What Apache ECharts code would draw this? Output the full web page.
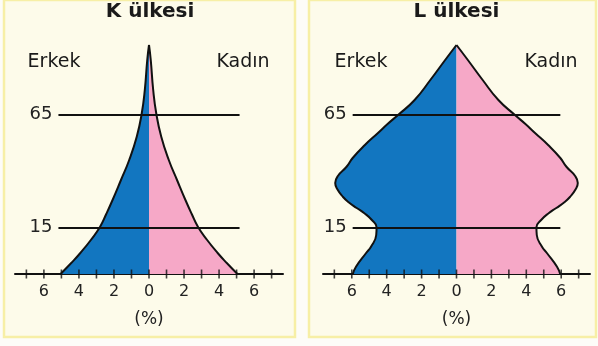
<!DOCTYPE html>
<html lang="tr">
<head>
<meta charset="UTF-8">
<title>K ve L ülkesi nüfus piramitleri</title>
<script src="https://cdn.jsdelivr.net/npm/echarts@6/dist/echarts.min.js"></script>
<style>
    html, body { margin: 0; padding: 0; background: #fdfcf8; }
    #main { width: 598px; height: 346px; }
</style>
</head>
<body>
<div id="main"></div>
<script>
    // dikey seviye: taban = 0, tepe ~ 91.6 (çizim yüksekliği), genişlik: nüfus oranı (%)
    var kLevel  = [0, 4.4, 8.4, 13.6, 18.8, 24, 29.6, 37.6, 45.6, 54.9, 64, 73.6, 85.6, 91.6];
    var kMale   = [5.05, 4.44, 3.92, 3.32, 2.8, 2.44, 2.08, 1.6, 1.13, 0.7, 0.42, 0.24, 0.1, 0];
    var kFemale = [5.05, 4.44, 3.92, 3.32, 2.8, 2.44, 2.08, 1.6, 1.13, 0.7, 0.42, 0.24, 0.1, 0];

    var lLevel  = [0, 2.9, 8.3, 10.9, 15.6, 18.7, 21.6, 24.3, 26.4, 28.8, 30.8, 33.6, 36.4, 39.2, 42.9,
                   46.4, 51.6, 56.4, 60, 63.6, 69.6, 77.6, 85.6, 91.6];
    var lMale   = [5.94, 5.76, 5.19, 4.9, 4.6, 4.58, 4.85, 5.28, 5.72, 6.2, 6.5, 6.8, 6.95, 6.8, 6.3,
                   5.95, 5.25, 4.5, 3.95, 3.35, 2.4, 1.5, 0.65, 0];
    var lFemale = [5.94, 5.76, 5.19, 4.9, 4.6, 4.58, 4.85, 5.28, 5.72, 6.2, 6.5, 6.8, 6.95, 6.8, 6.3,
                   5.95, 5.25, 4.5, 3.95, 3.35, 2.4, 1.5, 0.65, 0];

    // yaş sınırı çizgileri
    var ageNames  = ['15', '65'];
    var ageLevels = [18.7, 63.9];
    var kLineHalf = 5.17;
    var lLineHalf = 5.95;

    var tickValues  = [-7, -6, -5, -4, -3, -2, -1, 0, 1, 2, 3, 4, 5, 6, 7];
    var labelValues = [-6, -4, -2, 0, 2, 4, 6];

    var FONT = 'DejaVu Sans';
    var BLUE = '#1276c0';
    var PINK = '#f6a8c7';
    var INK = '#111';

    var chart = echarts.init(document.getElementById('main'));

    function xAxis(g) {
        return {
            type: 'value', gridIndex: g, min: -7.65, max: 7.65, position: 'bottom',
            axisLine: { show: true, onZero: false, lineStyle: { color: INK, width: 2 } },
            axisTick: { show: false },
            axisLabel: {
                customValues: labelValues, margin: 10, fontSize: 16, fontFamily: FONT, color: '#222',
                formatter: function (v) { return Math.abs(v); }
            },
            splitLine: { show: false },
            name: '(%)', nameLocation: 'middle', nameGap: 37,
            nameTextStyle: { fontSize: 17, fontFamily: FONT, color: '#222' }
        };
    }

    // eksen çizgisini kesen çentikler
    function ticks(g) {
        return {
            type: 'scatter', xAxisIndex: g, yAxisIndex: g, z: 6, silent: true, clip: false,
            symbol: 'rect', symbolSize: [1.6, 9],
            itemStyle: { color: INK },
            data: tickValues.map(function (v) { return [v, 0]; })
        };
    }

    function half(g, levels, widths, sign, color) {
        return {
            type: 'line', xAxisIndex: g, yAxisIndex: g,
            data: levels.map(function (y, i) { return [sign * widths[i], y]; }),
            smooth: 0.5, showSymbol: false, silent: true, z: 2,
            lineStyle: { color: INK, width: 2 },
            areaStyle: { color: color, opacity: 1 }
        };
    }

    function ageLines(g, span) {
        return {
            type: 'line', xAxisIndex: g, yAxisIndex: g, data: [], z: 5,
            markLine: {
                silent: true, symbol: 'none', animation: false,
                lineStyle: { color: INK, width: 2, type: 'solid' },
                label: { show: true, position: 'start', formatter: '{b}', distance: 6,
                         fontSize: 18, fontFamily: FONT, color: '#222' },
                data: ageLevels.map(function (lv, i) {
                    return [{ name: ageNames[i], coord: [-span, lv] }, { coord: [span, lv] }];
                })
            }
        };
    }

    function txt(x, y, s, size, bold) {
        return {
            type: 'text', x: x, y: y, z: 10,
            style: { text: s, align: 'center', verticalAlign: 'middle', fontSize: size,
                     fontFamily: FONT, fontWeight: bold ? 'bold' : 'normal', fill: '#1a1a1a' }
        };
    }

    var option = {
        animation: false,
        backgroundColor: '#fdfcf8',
        grid: [
            { left: 15, width: 268, top: 24, bottom: 72 },
            { left: 323, width: 267, top: 24, bottom: 72 }
        ],
        xAxis: [xAxis(0), xAxis(1)],
        yAxis: [
            { type: 'time', gridIndex: 0, min: 0, max: 100, show: false },
            { type: 'time', gridIndex: 1, min: 0, max: 100, show: false }
        ],
        series: [
            half(0, kLevel, kMale, -1, BLUE),
            half(0, kLevel, kFemale, 1, PINK),
            ageLines(0, kLineHalf),
            ticks(0),
            half(1, lLevel, lMale, -1, BLUE),
            half(1, lLevel, lFemale, 1, PINK),
            ageLines(1, lLineHalf),
            ticks(1)
        ],
        graphic: [
            { type: 'rect', z: -10, shape: { x: 4, y: 0, width: 291, height: 337 },
              style: { fill: '#fdfbea', stroke: '#f7efa6', lineWidth: 2.5 } },
            { type: 'rect', z: -10, shape: { x: 309, y: 0, width: 287, height: 337 },
              style: { fill: '#fdfbea', stroke: '#f7efa6', lineWidth: 2.5 } },
            txt(150, 12, 'K ülkesi', 20, true),
            txt(456.5, 12, 'L ülkesi', 20, true),
            txt(54, 62, 'Erkek', 19),
            txt(243, 62, 'Kadın', 19),
            txt(361, 62, 'Erkek', 19),
            txt(551, 62, 'Kadın', 19)
        ]
    };

    chart.setOption(option);
</script>
</body>
</html>
